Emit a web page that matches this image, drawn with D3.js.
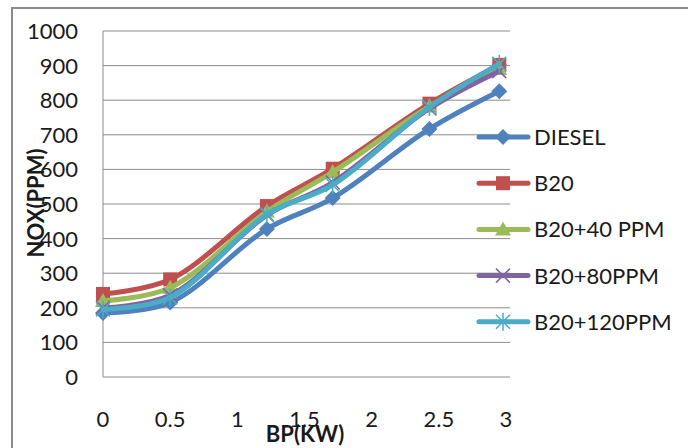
<!DOCTYPE html>
<html>
<head>
<meta charset="utf-8">
<script src="https://cdn.jsdelivr.net/npm/d3@7"></script>
<style>
  body { margin: 0; background: #fff; }
  text { font-family: Lato, "Open Sans", sans-serif; fill: #1a1a1a; }
</style>
</head>
<body>
<div id="chart"></div>
<script>
// data
var bp = [0, 0.5, 1.22, 1.71, 2.43, 2.95];
var diesel = [185, 215, 428, 517, 717, 826];
var b20 = [240, 282, 494, 602, 790, 902];
var b20p40 = [220, 258, 478, 592, 782, 890];
var b20p80 = [200, 236, 468, 562, 776, 884];
var b20p120 = [195, 230, 470, 555, 780, 905];
var seriesNames = ["DIESEL", "B20", "B20+40 PPM", "B20+80PPM", "B20+120PPM"];
var yTicks = [0, 100, 200, 300, 400, 500, 600, 700, 800, 900, 1000];
var xTicks = [0, 0.5, 1, 1.5, 2, 2.5, 3];

var svgWidth = 688, svgHeight = 448;
var colors = ["#4f81bd", "#c0504d", "#9bbb59", "#8064a2", "#4bacc6"];
var markers = ["diamond", "square", "triangle", "x", "star"];
var allValues = [diesel, b20, b20p40, b20p80, b20p120];

var svg = d3.select("#chart").append("svg")
    .attr("width", svgWidth)
    .attr("height", svgHeight);

// outer chart frame
svg.append("rect")
    .attr("x", 12).attr("y", 8)
    .attr("width", 700).attr("height", 460)
    .attr("fill", "none")
    .attr("stroke", "#8c8c8c")
    .attr("stroke-width", 2);

var x = d3.scaleLinear().domain([0, 3]).range([103, 506]);
var y = d3.scaleLinear().domain([0, 1000]).range([377, 31]);

// gridlines
svg.append("g").selectAll("line")
    .data(yTicks)
    .enter().append("line")
    .attr("x1", 103).attr("x2", 510)
    .attr("y1", d => y(d)).attr("y2", d => y(d))
    .attr("stroke", "#8c8c8c").attr("stroke-width", 1);

// y axis line
svg.append("line")
    .attr("x1", 103).attr("x2", 103)
    .attr("y1", y(1000)).attr("y2", y(0))
    .attr("stroke", "#8c8c8c");

// tick labels
svg.append("g").selectAll("text")
    .data(yTicks)
    .enter().append("text")
    .attr("x", 78).attr("y", d => y(d))
    .attr("dy", "0.36em")
    .attr("text-anchor", "end")
    .style("font-size", "22px")
    .text(d => d);

svg.append("g").selectAll("text")
    .data(xTicks)
    .enter().append("text")
    .attr("x", d => x(d)).attr("y", 427)
    .attr("text-anchor", "middle")
    .style("font-size", "22px")
    .text(d => d);

// axis titles
svg.append("text")
    .attr("transform", "translate(44,203) rotate(-90)")
    .attr("text-anchor", "middle")
    .style("font-size", "22px")
    .style("font-weight", "bold")
    .text("NOX(PPM)");

svg.append("text")
    .attr("x", 305).attr("y", 442)
    .attr("text-anchor", "middle")
    .style("font-size", "22px")
    .style("font-weight", "bold")
    .text("BP(KW)");

function drawMarker(g, type, color) {
  if (type === "diamond") {
    g.append("path").attr("d", "M0,-8L8,0L0,8L-8,0Z").attr("fill", color);
  } else if (type === "square") {
    g.append("rect").attr("x", -7).attr("y", -7).attr("width", 14).attr("height", 14).attr("fill", color);
  } else if (type === "triangle") {
    g.append("path").attr("d", "M0,-8L8,6L-8,6Z").attr("fill", color);
  } else if (type === "x") {
    g.append("path").attr("d", "M-7,-7L7,7M-7,7L7,-7").attr("stroke", color).attr("stroke-width", 1.5);
  } else {
    g.append("path").attr("d", "M-7,-7L7,7M-7,7L7,-7M0,-9L0,9").attr("stroke", color).attr("stroke-width", 1.5);
  }
}

var line = d3.line()
    .x((d, i) => x(bp[i]))
    .y(d => y(d))
    .curve(d3.curveCatmullRom.alpha(0.5));

allValues.forEach(function(vals, s) {
  svg.append("path")
      .datum(vals)
      .attr("d", line)
      .attr("fill", "none")
      .attr("stroke", colors[s])
      .attr("stroke-width", 5)
      .attr("stroke-linecap", "round");
  vals.forEach(function(v, i) {
    var g = svg.append("g").attr("transform", "translate(" + x(bp[i]) + "," + y(v) + ")");
    drawMarker(g, markers[s], colors[s]);
  });
});

// legend
var legend = svg.append("g");
seriesNames.forEach(function(name, s) {
  var ly = 137 + s * 46.2;
  legend.append("line")
      .attr("x1", 479).attr("x2", 528)
      .attr("y1", ly).attr("y2", ly)
      .attr("stroke", colors[s]).attr("stroke-width", 5)
      .attr("stroke-linecap", "round");
  drawMarker(legend.append("g").attr("transform", "translate(503," + ly + ")"), markers[s], colors[s]);
  legend.append("text")
      .attr("x", 534).attr("y", ly)
      .attr("dy", "0.36em")
      .style("font-size", "22px")
      .text(name);
});
</script>
</body>
</html>
